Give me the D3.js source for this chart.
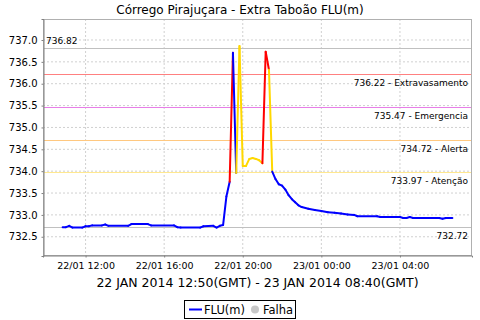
<!DOCTYPE html>
<html>
<head>
<meta charset="utf-8">
<script src="https://cdn.jsdelivr.net/npm/d3@7"></script>
<style>
body{margin:0;background:#fff;}
text{font-family:"DejaVu Sans",sans-serif;fill:#000;}
</style>
</head>
<body>
<div class="canvas"></div>
<script>
// chart data
const times=["22/01 10:50","22/01 11:00","22/01 11:10","22/01 11:20","22/01 11:50","22/01 12:00","22/01 12:10","22/01 12:20","22/01 12:50","22/01 13:00","22/01 13:10","22/01 14:10","22/01 14:20","22/01 15:10","22/01 15:20","22/01 16:30","22/01 16:40","22/01 16:50","22/01 17:50","22/01 18:00","22/01 18:30","22/01 18:40","22/01 18:50","22/01 19:00","22/01 19:10","22/01 19:20","22/01 19:30","22/01 19:40","22/01 19:50","22/01 20:00","22/01 20:10","22/01 20:20","22/01 20:30","22/01 20:40","22/01 20:50","22/01 21:00","22/01 21:10","22/01 21:20","22/01 21:30","22/01 21:40","22/01 21:50","22/01 22:00","22/01 22:10","22/01 22:20","22/01 22:30","22/01 22:40","22/01 22:50","22/01 23:00","22/01 23:20","22/01 23:40","23/01 00:00","23/01 00:20","23/01 00:40","23/01 01:00","23/01 01:20","23/01 01:40","23/01 01:50","23/01 02:50","23/01 03:00","23/01 04:00","23/01 04:10","23/01 04:20","23/01 04:30","23/01 04:40","23/01 05:40","23/01 06:00","23/01 06:10","23/01 06:20","23/01 06:40"];
const levels=[732.72,732.72,732.75,732.71,732.71,732.74,732.74,732.76,732.76,732.78,732.75,732.75,732.79,732.79,732.76,732.76,732.72,732.71,732.71,732.74,732.75,732.71,732.75,732.77,733.42,733.76,736.71,733.96,736.86,734.12,734.12,734.28,734.30,734.28,734.25,734.18,736.73,736.32,733.99,733.82,733.70,733.67,733.58,733.45,733.36,733.29,733.22,733.18,733.14,733.11,733.09,733.06,733.05,733.03,733.01,733.00,732.97,732.97,732.95,732.95,732.93,732.93,732.95,732.93,732.93,732.93,732.91,732.93,732.93];
// n = normal, a = atenção, x = extravasamento
const status=["n","n","n","n","n","n","n","n","n","n","n","n","n","n","n","n","n","n","n","n","n","n","n","n","n","n","x","n","a","a","a","a","a","a","a","a","x","x","a","n","n","n","n","n","n","n","n","n","n","n","n","n","n","n","n","n","n","n","n","n","n","n","n","n","n","n","n","n","n"];

const refValues=[736.82,736.22,735.47,734.72,733.97,732.72];
const refNames=["","Extravasamento","Emergencia","Alerta","Atenção",""];
const yTicks=[732.5,733.0,733.5,734.0,734.5,735.0,735.5,736.0,736.5,737.0];
const xDomain=["22/01 09:50","23/01 07:40"];

const title="Córrego Pirajuçara - Extra Taboão FLU(m)";
const xTitle="22 JAN 2014 12:50(GMT) - 23 JAN 2014 08:40(GMT)";

const dims={width:480,height:320};
const plot={left:43,right:472,top:19,bottom:256};

const parse=d3.utcParse("%d/%m %H:%M");
const fmt=d3.utcFormat("%d/%m %H:%M");

const data=times.map((t,i)=>({t:parse(t),v:levels[i],s:status[i]}));

const svg=d3.select('.canvas')
.append('svg')
.attr('width',dims.width)
.attr('height',dims.height);

const x=d3.scaleUtc()
.domain(xDomain.map(parse))
.range([plot.left,plot.right]);

const y=d3.scaleLinear()
.domain([732.06,737.48])
.range([plot.bottom,plot.top]);

const statusColor={n:'#0000ff',a:'#ffd800',x:'#ff0000'};
const refColor=['#c0c0c0','#ff8080','#e87ee8','#ffc880','#ffe890','#c0c0c0'];

const xTicks=x.ticks(d3.utcHour.every(4));

// grid
svg.append('g')
.selectAll('line')
.data(xTicks)
.join('line')
.attr('x1',d=>x(d)).attr('x2',d=>x(d))
.attr('y1',plot.top).attr('y2',plot.bottom)
.attr('stroke','#d0d0d0')
.attr('stroke-dasharray','2,2');

svg.append('g')
.selectAll('line')
.data(yTicks)
.join('line')
.attr('x1',plot.left).attr('x2',plot.right)
.attr('y1',d=>y(d)).attr('y2',d=>y(d))
.attr('stroke','#d0d0d0')
.attr('stroke-dasharray','2,2');

// reference levels
const refs=svg.append('g');
refs.selectAll('line')
.data(refValues)
.join('line')
.attr('x1',plot.left).attr('x2',plot.right)
.attr('y1',d=>Math.round(y(d))+0.5).attr('y2',d=>Math.round(y(d))+0.5)
.attr('stroke',(d,i)=>refColor[i]);

refs.selectAll('text')
.data(refValues)
.join('text')
.attr('font-size','9px')
.attr('x',(d,i)=>i==0?plot.left+3:plot.right-4)
.attr('y',(d,i)=>i==0?y(d)-3.5:y(d)+12)
.attr('text-anchor',(d,i)=>i==0?'start':'end')
.attr('fill','#333')
.text((d,i)=>refNames[i]?`${d.toFixed(2)} - ${refNames[i]}`:d.toFixed(2));

// series, each segment coloured by the status of its end point
svg.append('g')
.selectAll('line')
.data(d3.pairs(data))
.join('line')
.attr('x1',d=>x(d[0].t)).attr('y1',d=>y(d[0].v))
.attr('x2',d=>x(d[1].t)).attr('y2',d=>y(d[1].v))
.attr('stroke',d=>statusColor[d[1].s])
.attr('stroke-width',2)
.attr('stroke-linecap','round');

// plot frame
svg.append('rect')
.attr('x',plot.left+0.5).attr('y',plot.top+0.5)
.attr('width',plot.right-plot.left-1).attr('height',plot.bottom-plot.top-1)
.attr('fill','none')
.attr('stroke','#b0b0b0');

// axes
const yAxis=d3.axisLeft(y).tickValues(yTicks).tickFormat(d3.format('.1f')).tickSize(2).tickPadding(4);
const yG=svg.append('g').attr('transform',`translate(${plot.left+0.5},0)`).call(yAxis);
yG.select('.domain').attr('stroke','#808080');
yG.selectAll('.tick line').attr('stroke','#808080');
yG.selectAll('text').attr('font-size','10px').style('font-family','DejaVu Sans').attr('fill','#222');

const xAxis=d3.axisBottom(x).tickValues(xTicks).tickFormat(fmt).tickSize(2).tickPadding(5);
const xG=svg.append('g').attr('transform',`translate(0,${plot.bottom-0.5})`).call(xAxis);
xG.select('.domain').attr('stroke','#808080');
xG.selectAll('.tick line').attr('stroke','#808080');
xG.selectAll('text').attr('font-size','9.5px').style('font-family','DejaVu Sans').attr('fill','#000');

// titles
svg.append('text')
.attr('x',dims.width/2).attr('y',14)
.attr('text-anchor','middle')
.attr('font-size','12px')
.text(title);

svg.append('text')
.attr('x',(plot.left+plot.right)/2).attr('y',287)
.attr('text-anchor','middle')
.attr('font-size','12.5px')
.text(xTitle);

// legend
const legend=svg.append('g');
legend.append('rect')
.attr('x',184.5).attr('y',300.5).attr('width',111).attr('height',18)
.attr('fill','#fff').attr('stroke','#000');
legend.append('line')
.attr('x1',189).attr('x2',202).attr('y1',309.5).attr('y2',309.5)
.attr('stroke',statusColor.n).attr('stroke-width',2);
legend.append('text').attr('x',204).attr('y',314).attr('font-size','11.5px').text('FLU(m)');
legend.append('circle').attr('cx',255).attr('cy',309.5).attr('r',4).attr('fill','#c8c8c8');
legend.append('text').attr('x',263).attr('y',314).attr('font-size','11.5px').text('Falha');
</script>
</body>
</html>
